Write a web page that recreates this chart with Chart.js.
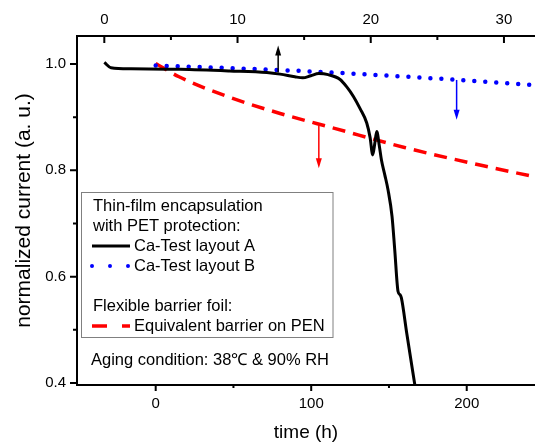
<!DOCTYPE html>
<html>
<head>
<meta charset="utf-8">
<script src="https://cdn.jsdelivr.net/npm/chart.js@4.4.0/dist/chart.umd.min.js"></script>
<style>
    html, body { margin: 0; padding: 0; background: #fff; }
    canvas { display: block; }
</style>
</head>
<body>
<canvas id="agingChart" width="535" height="445"></canvas>
<script>
// layout A is plotted against the top axis, B and PEN against time (h)
const timeA = [0, 0.5, 2, 5.7, 9.4, 12.2, 13.2, 14.3, 14.9, 15.5, 16.1, 16.8, 17.7, 18.2, 18.7, 19.2, 19.7, 19.95, 20.15, 20.3, 20.45, 20.65, 20.8, 21.05, 21.3, 21.6, 21.8, 22.05, 22.2, 22.3, 22.7, 23.35];
const currentA = [1.003, 0.993, 0.991, 0.990, 0.987, 0.984, 0.981, 0.976, 0.974, 0.978, 0.982, 0.980, 0.971, 0.957, 0.939, 0.916, 0.889, 0.862, 0.829, 0.850, 0.873, 0.845, 0.820, 0.792, 0.763, 0.713, 0.651, 0.572, 0.566, 0.560, 0.494, 0.390];

const timeB = [0, 50, 100, 150, 195, 245];
const currentB = [0.997, 0.992, 0.986, 0.978, 0.970, 0.960];

const timePEN = [0, 15, 45, 80, 115, 160, 210, 245];
const currentPEN = [1.001, 0.976, 0.940, 0.907, 0.879, 0.843, 0.809, 0.787];

const bottomTicks = [0, 100, 200];
const bottomMinor = [50, 150];
const topTicks = [0, 10, 20, 30];
const topMinor = [5, 15, 25];
const yTicks = [0.4, 0.6, 0.8, 1.0];
const yMinor = [0.5, 0.7, 0.9];

// arrows: [axis, x, from, to, colour]
const arrows = [
    ['x2', 13.05, 0.984, 1.035, '#000'],
    ['x', 193.5, 0.970, 0.895, '#0000ff'],
    ['x', 104.9, 0.885, 0.804, '#ff0000']
];

const FONT = 'Liberation Sans, Arial, Helvetica, sans-serif';

function toPoints(xs, ys) {
    return xs.map((x, i) => ({x: x, y: ys[i]}));
}

const decorPlugin = {
    id: 'decor',
    afterDraw(chart) {
        const ctx = chart.ctx;
        const area = chart.chartArea;
        const xs = chart.scales.x, xt = chart.scales.x2, ys = chart.scales.y;

        ctx.save();
        ctx.strokeStyle = '#000';
        ctx.lineWidth = 2;
        ctx.beginPath();
        bottomTicks.forEach(v => { const p = xs.getPixelForValue(v); ctx.moveTo(p, area.bottom); ctx.lineTo(p, area.bottom + 6); });
        bottomMinor.forEach(v => { const p = xs.getPixelForValue(v); ctx.moveTo(p, area.bottom); ctx.lineTo(p, area.bottom + 3); });
        topTicks.forEach(v => { const p = xt.getPixelForValue(v); ctx.moveTo(p, area.top); ctx.lineTo(p, area.top + 7); });
        topMinor.forEach(v => { const p = xt.getPixelForValue(v); ctx.moveTo(p, area.top); ctx.lineTo(p, area.top + 4); });
        yTicks.forEach(v => { const p = ys.getPixelForValue(v); ctx.moveTo(area.left - 7, p); ctx.lineTo(area.left, p); });
        yMinor.forEach(v => { const p = ys.getPixelForValue(v); ctx.moveTo(area.left - 4, p); ctx.lineTo(area.left, p); });
        ctx.stroke();

        // arrows
        arrows.forEach(a => {
            const px = chart.scales[a[0]].getPixelForValue(a[1]);
            const y0 = ys.getPixelForValue(a[2]);
            const y1 = ys.getPixelForValue(a[3]);
            const dir = y1 < y0 ? -1 : 1;
            ctx.strokeStyle = a[4];
            ctx.fillStyle = a[4];
            ctx.lineWidth = 1.5;
            ctx.beginPath();
            ctx.moveTo(px, y0);
            ctx.lineTo(px, y1 - dir * 8);
            ctx.stroke();
            ctx.beginPath();
            ctx.moveTo(px, y1);
            ctx.lineTo(px - 3, y1 - dir * 10);
            ctx.lineTo(px + 3, y1 - dir * 10);
            ctx.closePath();
            ctx.fill();
        });

        // legend box
        ctx.fillStyle = '#fff';
        ctx.fillRect(81.5, 192.5, 251.5, 145);
        ctx.strokeStyle = '#808080';
        ctx.lineWidth = 1;
        ctx.strokeRect(81.5, 192.5, 251.5, 145);

        ctx.fillStyle = '#000';
        ctx.font = '16.5px ' + FONT;
        ctx.textBaseline = 'middle';
        ctx.textAlign = 'left';
        ctx.fillText('Thin-film encapsulation', 93, 206);
        ctx.fillText('with PET protection:', 93, 226);
        ctx.fillText('Ca-Test layout A', 134, 246);
        ctx.fillText('Ca-Test layout B', 134, 266);
        ctx.fillText('Flexible barrier foil:', 93, 306);
        ctx.fillText('Equivalent barrier on PEN', 134, 326);

        ctx.lineWidth = 3;
        ctx.strokeStyle = '#000';
        ctx.beginPath(); ctx.moveTo(92, 246); ctx.lineTo(130, 246); ctx.stroke();

        ctx.strokeStyle = '#0000ff';
        ctx.lineWidth = 4;
        ctx.lineCap = 'round';
        ctx.setLineDash([0, 18]);
        ctx.beginPath(); ctx.moveTo(92, 266); ctx.lineTo(130, 266); ctx.stroke();

        ctx.strokeStyle = '#ff0000';
        ctx.lineWidth = 3.5;
        ctx.lineCap = 'butt';
        ctx.setLineDash([15, 15]);
        ctx.beginPath(); ctx.moveTo(92, 326); ctx.lineTo(130, 326); ctx.stroke();
        ctx.setLineDash([]);

        ctx.fillStyle = '#000';
        ctx.fillText('Aging condition: 38\u2103 & 90% RH', 91, 360);
        ctx.restore();
    }
};

new Chart(document.getElementById('agingChart'), {
    type: 'line',
    data: {
        datasets: [{
            label: 'Ca-Test layout A',
            data: toPoints(timeA, currentA),
            xAxisID: 'x2',
            borderColor: '#000',
            borderWidth: 3,
            pointRadius: 0,
            cubicInterpolationMode: 'monotone'
        }, {
            label: 'Ca-Test layout B',
            data: toPoints(timeB, currentB),
            xAxisID: 'x',
            borderColor: '#0000ff',
            borderWidth: 4.5,
            borderDash: [0, 11],
            borderCapStyle: 'round',
            pointRadius: 0,
            cubicInterpolationMode: 'monotone'
        }, {
            label: 'Equivalent barrier on PEN',
            data: toPoints(timePEN, currentPEN),
            xAxisID: 'x',
            borderColor: '#ff0000',
            borderWidth: 3.5,
            borderDash: [13, 8],
            pointRadius: 0,
            cubicInterpolationMode: 'monotone'
        }]
    },
    options: {
        responsive: false,
        animation: false,
        layout: {padding: 0},
        plugins: {legend: {display: false}, tooltip: {enabled: false}},
        scales: {
            x: {
                type: 'linear',
                position: 'bottom',
                min: -50.6,
                max: 243.9,
                afterFit: s => { s.height = 60; },
                afterBuildTicks: s => { s.ticks = bottomTicks.map(v => ({value: v})); },
                grid: {display: false, drawTicks: false},
                border: {display: true, color: '#000', width: 2},
                ticks: {color: '#000', padding: 10, font: {family: FONT, size: 15}},
                title: {display: true, text: 'time (h)', color: '#000', padding: {top: 0, bottom: 1}, font: {family: FONT, size: 19}}
            },
            x2: {
                type: 'linear',
                position: 'top',
                min: -2.05,
                max: 32.33,
                afterFit: s => { s.height = 36; },
                afterBuildTicks: s => { s.ticks = topTicks.map(v => ({value: v})); },
                grid: {display: false, drawTicks: false},
                border: {display: true, color: '#000', width: 2},
                ticks: {color: '#000', padding: 7, font: {family: FONT, size: 15}}
            },
            y: {
                type: 'linear',
                min: 0.3962,
                max: 1.0527,
                afterFit: s => { s.width = 77; },
                afterBuildTicks: s => { s.ticks = yTicks.map(v => ({value: v})); },
                grid: {display: false, drawTicks: false},
                border: {display: true, color: '#000', width: 2},
                ticks: {color: '#000', padding: 11, font: {family: FONT, size: 15}, callback: v => v.toFixed(1)},
                title: {display: true, text: 'normalized current (a. u.)', color: '#000', padding: {top: 12, bottom: 0}, font: {family: FONT, size: 21}}
            }
        }
    },
    plugins: [decorPlugin]
});
</script>
</body>
</html>
